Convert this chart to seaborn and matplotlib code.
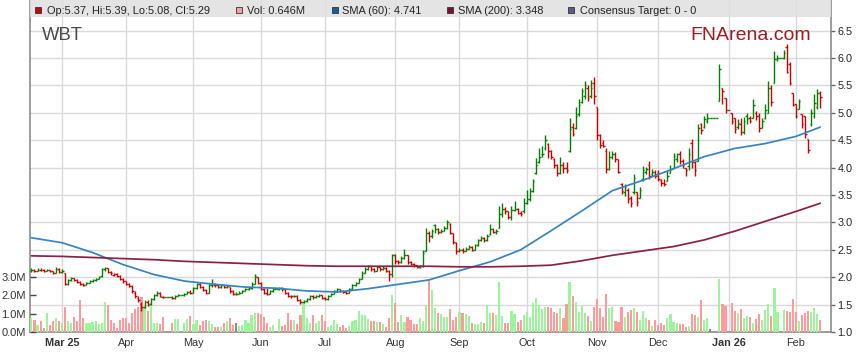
import numpy as np
import pandas as pd
import matplotlib
matplotlib.use("Agg")
import matplotlib.pyplot as plt
from matplotlib.patches import Rectangle
import seaborn as sns

# weekdays shown on the chart (exchange holidays appear as flat bars)
dates = pd.bdate_range("2025-02-17", "2026-02-12")

opens = [
    2.12, 2.13, 2.12, 2.14, 2.13, 2.12, 2.13, 2.11, 2.08, 2.15,
    2.10, 2.08, 1.87, 1.95, 1.98, 1.95, 1.92, 1.87, 1.86, 1.90,
    1.93, 1.95, 1.97, 2.02, 2.15, 2.16, 2.10, 2.04, 2.05, 2.03,
    1.97, 1.93, 1.88, 1.84, 1.72, 1.62, 1.52, 1.45, 1.55, 1.52,
    1.60, 1.68, 1.72, 1.63, 1.64, 1.64, 1.64, 1.62, 1.66, 1.68,
    1.68, 1.70, 1.73, 1.72, 1.80, 1.88, 1.83, 1.76, 1.72, 1.85,
    1.86, 1.85, 1.82, 1.85, 1.82, 1.82, 1.75, 1.70, 1.70, 1.72,
    1.75, 1.78, 1.80, 1.88, 2.00, 1.90, 1.78, 1.72, 1.70, 1.74,
    1.78, 1.78, 1.80, 1.78, 1.72, 1.66, 1.65, 1.66, 1.58, 1.55,
    1.56, 1.60, 1.66, 1.63, 1.65, 1.67, 1.62, 1.60, 1.66, 1.70,
    1.74, 1.78, 1.75, 1.73, 1.72, 1.78, 1.85, 1.90, 1.97, 2.08,
    2.15, 2.20, 2.15, 2.12, 2.18, 2.15, 2.17, 2.12, 2.05, 2.40,
    2.30, 2.27, 2.35, 2.40, 2.28, 2.24, 2.22, 2.18, 2.20, 2.48,
    2.80, 2.75, 2.95, 2.88, 2.82, 2.85, 2.90, 2.98, 2.80, 2.62,
    2.48, 2.50, 2.48, 2.52, 2.55, 2.50, 2.58, 2.68, 2.72, 2.68,
    2.78, 2.88, 2.83, 2.90, 3.15, 3.25, 3.20, 3.10, 3.22, 3.25,
    3.18, 3.20, 3.35, 3.42, 3.58, 3.90, 4.10, 4.25, 4.35, 4.43,
    4.30, 4.15, 4.05, 3.90, 4.05, 4.00, 4.30, 4.75, 4.72, 4.98,
    5.20, 5.30, 5.45, 5.30, 5.55, 5.10, 4.60, 4.45, 4.30, 3.98,
    4.20, 4.25, 4.15, 3.70, 3.55, 3.60, 3.45, 3.55, 3.55, 3.45,
    3.80, 3.92, 4.05, 3.88, 3.92, 3.90, 3.78, 3.72, 3.75, 3.90,
    4.00, 4.15, 4.25, 4.12, 4.00, 4.03, 4.45, 4.10, 4.12, 4.80,
    4.75, 4.85, 4.90, 4.90, 4.90, 5.22, 5.45, 5.27, 5.05, 5.00,
    4.90, 4.75, 4.80, 4.65, 4.95, 4.90, 4.90, 5.00, 4.95, 4.72,
    4.90, 5.00, 5.45, 5.55, 5.98, 6.00, 6.00, 6.20, 5.90, 5.37,
    5.17, 5.07, 4.98, 4.94, 4.53, 4.80, 4.95, 5.10, 5.37,
]
highs = [
    2.16, 2.15, 2.16, 2.16, 2.15, 2.15, 2.14, 2.12, 2.18, 2.16,
    2.15, 2.08, 1.97, 2.01, 1.99, 1.96, 1.93, 1.89, 1.92, 1.95,
    1.97, 1.99, 2.02, 2.17, 2.19, 2.17, 2.12, 2.08, 2.07, 2.04,
    1.98, 1.94, 1.90, 1.85, 1.74, 1.66, 1.55, 1.58, 1.58, 1.62,
    1.70, 1.75, 1.73, 1.66, 1.64, 1.64, 1.66, 1.68, 1.70, 1.68,
    1.72, 1.75, 1.76, 1.82, 1.90, 1.89, 1.84, 1.78, 1.87, 1.97,
    1.89, 1.87, 1.87, 1.86, 1.86, 1.83, 1.76, 1.73, 1.74, 1.77,
    1.80, 1.83, 1.91, 2.06, 2.01, 1.91, 1.80, 1.80, 1.76, 1.80,
    1.78, 1.83, 1.82, 1.79, 1.73, 1.68, 1.68, 1.67, 1.60, 1.59,
    1.62, 1.68, 1.68, 1.67, 1.69, 1.68, 1.63, 1.68, 1.72, 1.76,
    1.80, 1.79, 1.77, 1.75, 1.80, 1.87, 1.92, 1.99, 2.12, 2.18,
    2.23, 2.21, 2.17, 2.20, 2.19, 2.20, 2.18, 2.14, 2.43, 2.42,
    2.32, 2.38, 2.52, 2.41, 2.30, 2.26, 2.23, 2.22, 2.50, 2.90,
    2.85, 2.88, 2.98, 2.90, 2.88, 2.93, 3.05, 2.99, 2.81, 2.64,
    2.54, 2.53, 2.55, 2.58, 2.57, 2.60, 2.70, 2.75, 2.73, 2.78,
    2.97, 2.90, 2.88, 3.30, 3.35, 3.28, 3.21, 3.30, 3.40, 3.27,
    3.20, 3.45, 3.60, 3.62, 3.80, 4.18, 4.35, 4.40, 4.60, 4.45,
    4.32, 4.17, 4.06, 4.20, 4.10, 4.10, 4.90, 4.82, 5.10, 5.25,
    5.45, 5.58, 5.50, 5.60, 5.65, 5.10, 4.62, 4.50, 4.35, 4.30,
    4.30, 4.28, 4.16, 3.72, 3.70, 3.62, 3.48, 3.88, 3.55, 3.65,
    4.03, 4.02, 4.12, 3.98, 3.95, 3.95, 3.80, 3.80, 3.95, 4.05,
    4.27, 4.27, 4.30, 4.15, 4.00, 4.36, 4.53, 4.12, 4.80, 4.82,
    4.95, 5.00, 4.90, 4.90, 4.90, 5.90, 5.46, 5.27, 5.05, 5.00,
    4.90, 4.88, 4.90, 4.92, 5.00, 4.95, 5.26, 5.03, 5.00, 4.90,
    5.16, 5.58, 5.50, 6.13, 6.05, 6.00, 6.15, 6.26, 5.92, 5.37,
    5.17, 5.25, 4.98, 4.94, 4.53, 5.07, 5.35, 5.44, 5.39,
]
lows = [
    2.10, 2.10, 2.11, 2.11, 2.10, 2.11, 2.09, 2.06, 2.08, 2.08,
    2.08, 1.85, 1.86, 1.93, 1.93, 1.90, 1.85, 1.84, 1.85, 1.89,
    1.92, 1.94, 1.96, 2.01, 2.11, 2.08, 2.04, 2.02, 2.00, 1.95,
    1.90, 1.86, 1.82, 1.72, 1.62, 1.55, 1.38, 1.44, 1.48, 1.50,
    1.59, 1.66, 1.64, 1.62, 1.64, 1.64, 1.60, 1.61, 1.65, 1.68,
    1.66, 1.69, 1.70, 1.71, 1.79, 1.80, 1.74, 1.69, 1.71, 1.83,
    1.82, 1.80, 1.81, 1.80, 1.81, 1.72, 1.68, 1.68, 1.69, 1.71,
    1.74, 1.77, 1.79, 1.87, 1.88, 1.76, 1.70, 1.68, 1.69, 1.73,
    1.78, 1.77, 1.75, 1.70, 1.64, 1.62, 1.63, 1.56, 1.51, 1.53,
    1.55, 1.59, 1.60, 1.62, 1.64, 1.60, 1.58, 1.59, 1.65, 1.69,
    1.73, 1.73, 1.71, 1.70, 1.71, 1.77, 1.84, 1.89, 1.96, 2.07,
    2.14, 2.12, 2.10, 2.11, 2.12, 2.13, 2.10, 1.93, 2.00, 2.25,
    2.24, 2.26, 2.33, 2.25, 2.22, 2.19, 2.17, 2.16, 2.18, 2.47,
    2.65, 2.72, 2.80, 2.78, 2.80, 2.84, 2.88, 2.78, 2.60, 2.43,
    2.46, 2.45, 2.47, 2.51, 2.48, 2.49, 2.57, 2.66, 2.65, 2.67,
    2.77, 2.80, 2.79, 2.90, 3.10, 3.15, 3.07, 3.05, 3.20, 3.15,
    3.12, 3.18, 3.33, 3.40, 3.56, 3.88, 4.08, 4.20, 4.33, 4.18,
    4.15, 4.00, 3.85, 3.88, 3.90, 3.90, 4.28, 4.58, 4.70, 4.95,
    5.18, 5.25, 5.22, 5.28, 5.17, 4.50, 4.35, 4.38, 3.90, 3.95,
    4.15, 4.10, 3.90, 3.52, 3.48, 3.35, 3.28, 3.52, 3.30, 3.45,
    3.76, 3.88, 3.80, 3.85, 3.82, 3.75, 3.67, 3.67, 3.75, 3.90,
    4.00, 4.10, 4.07, 4.00, 3.85, 3.95, 4.00, 3.85, 4.12, 4.62,
    4.73, 4.82, 4.90, 4.90, 4.90, 5.22, 5.17, 5.00, 5.05, 4.80,
    4.63, 4.70, 4.60, 4.62, 4.80, 4.82, 4.90, 4.87, 4.65, 4.72,
    4.88, 5.00, 5.13, 5.55, 5.95, 6.00, 5.98, 5.72, 5.50, 5.13,
    4.90, 5.07, 4.72, 4.55, 4.27, 4.76, 4.90, 5.07, 5.08,
]
closes = [
    2.13, 2.12, 2.14, 2.13, 2.12, 2.13, 2.11, 2.08, 2.15, 2.10,
    2.12, 1.87, 1.95, 1.98, 1.95, 1.92, 1.87, 1.86, 1.90, 1.93,
    1.95, 1.97, 2.00, 2.15, 2.17, 2.10, 2.07, 2.05, 2.03, 1.97,
    1.93, 1.88, 1.84, 1.75, 1.65, 1.58, 1.45, 1.55, 1.50, 1.60,
    1.68, 1.72, 1.66, 1.64, 1.64, 1.64, 1.62, 1.66, 1.68, 1.68,
    1.70, 1.73, 1.72, 1.80, 1.88, 1.83, 1.76, 1.72, 1.85, 1.88,
    1.85, 1.82, 1.85, 1.82, 1.84, 1.75, 1.70, 1.70, 1.72, 1.75,
    1.78, 1.80, 1.88, 2.02, 1.90, 1.78, 1.72, 1.70, 1.74, 1.78,
    1.78, 1.80, 1.78, 1.72, 1.66, 1.65, 1.66, 1.58, 1.55, 1.56,
    1.60, 1.66, 1.63, 1.65, 1.67, 1.62, 1.60, 1.66, 1.70, 1.74,
    1.78, 1.75, 1.73, 1.72, 1.78, 1.85, 1.90, 1.97, 2.08, 2.15,
    2.20, 2.15, 2.12, 2.18, 2.15, 2.17, 2.12, 2.05, 2.40, 2.30,
    2.27, 2.35, 2.40, 2.28, 2.24, 2.22, 2.19, 2.20, 2.45, 2.80,
    2.75, 2.85, 2.88, 2.82, 2.85, 2.90, 3.00, 2.80, 2.65, 2.48,
    2.50, 2.48, 2.52, 2.55, 2.50, 2.58, 2.68, 2.72, 2.68, 2.75,
    2.88, 2.83, 2.85, 3.15, 3.25, 3.20, 3.10, 3.22, 3.25, 3.18,
    3.15, 3.35, 3.42, 3.58, 3.75, 4.05, 4.20, 4.25, 4.50, 4.30,
    4.20, 4.05, 3.90, 4.05, 4.00, 3.95, 4.70, 4.62, 4.95, 5.15,
    5.40, 5.50, 5.28, 5.45, 5.30, 4.60, 4.42, 4.40, 3.98, 4.20,
    4.25, 4.15, 3.92, 3.58, 3.65, 3.42, 3.35, 3.82, 3.38, 3.60,
    3.95, 3.98, 3.85, 3.92, 3.85, 3.80, 3.72, 3.70, 3.85, 3.98,
    4.22, 4.25, 4.12, 4.05, 3.95, 4.25, 4.10, 3.95, 4.72, 4.68,
    4.88, 4.90, 4.90, 4.90, 4.90, 5.80, 5.40, 5.05, 5.05, 4.85,
    4.70, 4.82, 4.65, 4.85, 4.88, 4.85, 5.15, 4.95, 4.72, 4.85,
    5.05, 5.45, 5.20, 5.98, 6.00, 6.00, 6.10, 5.75, 5.55, 5.15,
    4.95, 5.22, 4.80, 4.62, 4.32, 5.00, 5.18, 5.37, 5.29,
]
# volume in millions of shares
volumes = [
    0.74, 0.65, 0.38, 0.60, 0.20, 1.05, 0.38, 0.62, 0.74, 0.60,
    0.47, 1.34, 0.62, 0.47, 0.83, 0.62, 1.74, 0.74, 0.47, 0.47,
    0.56, 0.60, 0.43, 0.47, 1.65, 1.47, 0.65, 0.47, 0.20, 0.65,
    0.74, 0.74, 0.51, 1.01, 1.23, 1.38, 1.92, 1.38, 1.14, 1.56,
    0.47, 0.47, 0.43, 0.83, 0.00, 0.00, 0.51, 0.69, 0.69, 0.00,
    0.51, 0.69, 0.87, 0.43, 0.65, 0.38, 0.60, 0.65, 0.62, 0.43,
    0.25, 0.25, 0.25, 0.47, 0.60, 0.74, 0.38, 0.51, 0.33, 0.38,
    0.65, 0.51, 0.92, 1.05, 1.05, 0.98, 0.83, 0.51, 0.29, 0.38,
    0.00, 0.69, 0.33, 0.38, 1.05, 0.65, 0.65, 0.43, 0.92, 1.56,
    0.74, 0.47, 0.92, 0.47, 0.62, 0.92, 0.60, 0.29, 0.38, 0.65,
    0.43, 0.29, 0.38, 0.20, 0.33, 0.62, 0.65, 1.16, 0.92, 0.92,
    0.69, 0.60, 0.60, 0.56, 0.56, 0.43, 0.29, 0.74, 2.01, 1.56,
    0.56, 0.92, 0.56, 0.83, 0.65, 0.43, 0.43, 0.74, 0.62, 1.47,
    2.86, 2.28, 1.29, 1.01, 0.98, 0.83, 0.80, 1.23, 0.65, 0.80,
    1.10, 1.05, 0.98, 0.87, 0.47, 0.43, 0.43, 0.56, 0.51, 1.47,
    1.01, 1.01, 0.92, 2.74, 0.87, 0.51, 0.47, 1.14, 0.98, 0.56,
    0.65, 0.92, 1.10, 0.83, 1.56, 1.83, 1.47, 1.23, 1.34, 1.34,
    1.29, 1.10, 1.05, 1.29, 0.74, 1.52, 2.74, 1.96, 1.65, 1.10,
    1.41, 1.05, 0.87, 0.62, 1.38, 1.78, 1.29, 0.83, 2.07, 1.32,
    1.38, 0.60, 0.56, 1.38, 0.83, 1.10, 1.20, 1.32, 1.10, 0.65,
    1.14, 0.74, 0.65, 0.33, 0.65, 0.38, 0.51, 0.38, 0.74, 0.98,
    0.56, 0.47, 0.43, 0.43, 0.25, 0.33, 0.98, 0.92, 0.83, 1.74,
    0.65, 0.74, 0.16, 0.00, 0.00, 2.88, 1.52, 1.41, 0.00, 1.56,
    1.14, 1.05, 1.23, 0.74, 0.87, 0.83, 0.51, 0.69, 0.96, 0.65,
    1.20, 1.52, 0.87, 2.37, 1.10, 0.00, 1.20, 1.14, 1.10, 1.78,
    1.10, 0.60, 0.92, 1.05, 1.14, 1.10, 1.29, 0.98, 0.65,
]
# moving averages read every 10th trading day (plus the last day)
sma_step = 10
sma60 = [2.72, 2.63, 2.45, 2.23, 2.05, 1.93, 1.87, 1.82, 1.80, 1.75,
         1.73, 1.79, 1.87, 1.95, 2.12, 2.28, 2.50, 2.85, 3.21, 3.58,
         3.77, 3.98, 4.20, 4.35, 4.44, 4.57, 4.74]
sma200 = [2.39, 2.38, 2.36, 2.34, 2.32, 2.29, 2.27, 2.25, 2.23, 2.21,
          2.20, 2.20, 2.20, 2.20, 2.19, 2.19, 2.20, 2.22, 2.30, 2.40,
          2.48, 2.56, 2.68, 2.84, 3.02, 3.20, 3.35]

header_items = [
    ("Op:5.37, Hi:5.39, Lo:5.08, Cl:5.29", "#cc0000"),
    ("Vol: 0.646M", "#f7a0a0"),
    ("SMA (60): 4.741", "#14609f"),
    ("SMA (200): 3.348", "#7d1030"),
    ("Consensus Target: 0 - 0", "#5c5c8c"),
]

sns.set_style("white")
plt.rcParams["font.family"] = ["Liberation Sans", "DejaVu Sans"]

W, H = 859, 363
n = len(dates)
x = np.arange(n)
o = np.array(opens); h = np.array(highs); l = np.array(lows); c = np.array(closes)
prev = np.r_[o[0], c[:-1]]
bar_colors = np.where(c >= prev, "#008000", "#cc0000")
vol_colors = np.where(c > prev, "#9cf49c", np.where(c < prev, "#ff9a9a", "#8c8c8c"))
sma_x = list(range(0, n, sma_step)) + [n - 1]

# month ticks at the first weekday of every month
new_month = ~pd.Series(dates.to_period("M")).duplicated().to_numpy()
tick_pos = x[new_month][1:]
tick_dates = dates[new_month][1:]
tick_labels, tick_bold = [], []
for k, d in enumerate(tick_dates):
    if k == 0 or d.month == 1:
        tick_labels.append(d.strftime("%b %y"))
        tick_bold.append(True)
    else:
        tick_labels.append(d.strftime("%b"))
        tick_bold.append(False)

fig = plt.figure(figsize=(W / 100, H / 100), dpi=100)
ax = fig.add_axes([30 / W, 31 / H, 801 / W, 332 / H])
ax_vol = ax.twinx()
ax_px = ax.twinx()

price_top = 7.06
xmin, xmax = -0.46, 261.5

# base layer: grid
ax.set_xlim(xmin, xmax)
ax.set_ylim(1.0, price_top)
ax.set_yticks(np.arange(1.0, 6.51, 0.5))
ax.set_xticks(tick_pos, tick_labels)
ax.grid(True, color="#d9d9d9", lw=1.0)
ax.tick_params(axis="y", left=False, right=False, labelleft=False, labelright=False)
ax.tick_params(axis="x", length=0, pad=4, labelsize=7.8, labelcolor="#333333")
for lab, b in zip(ax.get_xticklabels(), tick_bold):
    if b:
        lab.set_fontweight("bold")
ax.spines["top"].set_visible(False)
for s in ["left", "right", "bottom"]:
    ax.spines[s].set_color("#8c8c8c")
    ax.spines[s].set_linewidth(1.2)

# volume layer
ax_vol.bar(x, volumes, width=0.7, color=vol_colors, linewidth=0)
ax_vol.set_ylim(0, 18.04)
ax_vol.yaxis.tick_left()
ax_vol.set_yticks([0, 1, 2, 3], ["0.0M", "1.0M", "2.0M", "3.0M"])
ax_vol.tick_params(axis="y", direction="in", length=4, width=1, color="#444444",
                   pad=3, labelsize=8, labelcolor="#333333")
for sp in ax_vol.spines.values():
    sp.set_visible(False)

# price layer
ax_px.vlines(x, l, h, colors=bar_colors, lw=1.0)
ax_px.hlines(o, x - 0.5, x, colors=bar_colors, lw=1.0)
ax_px.hlines(c, x, x + 0.5, colors=bar_colors, lw=1.0)
sns.lineplot(x=sma_x, y=sma60, ax=ax_px, color="#3485c4", lw=1.25)
sns.lineplot(x=sma_x, y=sma200, ax=ax_px, color="#8e1f44", lw=1.25)
ax_px.set_xlim(xmin, xmax)
ax_px.set_ylim(1.0, price_top)
yt = np.arange(1.0, 6.51, 0.5)
ax_px.set_yticks(yt, [f"{v:.1f}" for v in yt])
ax_px.tick_params(axis="y", direction="out", length=3, width=1, color="#666666",
                  pad=1.5, labelsize=7.8, labelcolor="#222222")
ax_px.set_xlabel("")
ax_px.set_ylabel("")
for sp in ax_px.spines.values():
    sp.set_visible(False)

# header band with legend
fig.add_artist(Rectangle((30 / W, 1 - 17 / H), 801 / W, 17 / H, transform=fig.transFigure,
                         facecolor="#e0e0e0", alpha=0.85, edgecolor="none", zorder=5))
sq_x = [35, 236, 332, 447, 568]
tx_x = [47, 247, 342, 458, 580]
for (txt, col), sx, tx in zip(header_items, sq_x, tx_x):
    fig.add_artist(Rectangle((sx / W, 1 - 13 / H), 6 / W, 6 / H, transform=fig.transFigure,
                             facecolor=col, edgecolor="#333333", lw=0.6, zorder=6))
    fig.text(tx / W, 1 - 14 / H, txt, fontsize=7.9, color="#222222", va="baseline", zorder=7)

fig.text(42 / W, 1 - 40 / H, "WBT", fontsize=13.3, color="#4a4a4a", va="baseline", zorder=7)
fig.text(690 / W, 1 - 40 / H, "FNArena.com", fontsize=14, color="#a01c22", va="baseline", zorder=7)

fig.savefig("out.png", dpi=100)
